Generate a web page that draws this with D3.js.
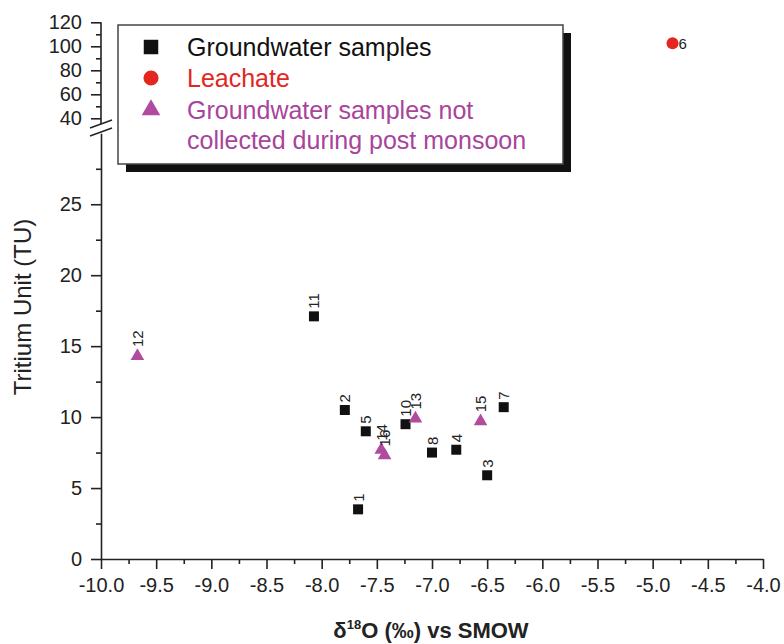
<!DOCTYPE html>
<html>
<head>
<meta charset="utf-8">
<script src="https://cdn.jsdelivr.net/npm/d3@7"></script>
<style>
  body { margin: 0; background: #fff; }
  svg { font-family: "Liberation Sans", Arial, sans-serif; }
  .axis path, .axis line { stroke: #222; stroke-width: 1.6; }
  .axis text { font-size: 20px; fill: #222; }
  .pt-label { font-size: 15px; fill: #222; }
</style>
</head>
<body>
<div id="chart"></div>
<script>
// groundwater samples (squares)
const gwIds = [1, 2, 3, 4, 5, 7, 8, 10, 11];
const gwO18 = [-7.67, -7.79, -6.50, -6.78, -7.60, -6.35, -7.00, -7.24, -8.07];
const gwTU = [3.5, 10.5, 5.9, 7.7, 9.0, 10.7, 7.5, 9.5, 17.1];

// leachate (circle)
const leachIds = [6];
const leachO18 = [-4.82];
const leachTU = [102.5];

// samples not collected during post monsoon (triangles)
const ncIds = [12, 13, 14, 15, 16];
const ncO18 = [-9.67, -7.15, -7.46, -6.56, -7.43];
const ncTU = [14.3, 9.9, 7.7, 9.7, 7.3];

const xTicks = [-10, -9.5, -9, -8.5, -8, -7.5, -7, -6.5, -6, -5.5, -5, -4.5, -4];
const yLowTicks = [0, 5, 10, 15, 20, 25];
const yHighTicks = [40, 60, 80, 100, 120];

const legendLabels = ['Groundwater samples', 'Leachate', ['Groundwater samples not', 'collected during post monsoon']];

const toPoints = (ids, xs, ys) => ids.map((id, i) => ({id: id, o18: xs[i], tu: ys[i]}));

class BrokenScatter {
    constructor(_config) {
        this.config = {
            parentElement: _config.parentElement,
            containerWidth: _config.containerWidth || 784,
            containerHeight: _config.containerHeight || 644
        };
        this.initVis();
        this.renderVis();
    }

    initVis() {
        let vis = this;

        vis.svg = d3.select(vis.config.parentElement)
            .append('svg')
            .attr('width', vis.config.containerWidth)
            .attr('height', vis.config.containerHeight);

        vis.xScale = d3.scaleLinear().domain([-10, -4]).range([101, 763]);
        // lower part of the broken axis
        vis.yLow = d3.scaleLinear().domain([0, 30]).range([559, 133.3]);
        // upper part of the broken axis
        vis.yHigh = d3.scaleLinear().domain([40, 120]).range([118.3, 22.3]);

        vis.colors = {gw: '#111111', leach: '#e3261f', nc: '#b04ba0', ncText: '#a8449b'};
    }

    renderVis() {
        let vis = this;

        // x axis, major + minor ticks
        vis.svg.append('g')
            .attr('class', 'axis')
            .attr('transform', 'translate(0,559)')
            .call(d3.axisBottom(vis.xScale).tickValues(xTicks).tickFormat(d3.format('.1f'))
                .tickSize(10).tickSizeOuter(0).tickPadding(9))
            .call(g => g.selectAll('text').text(d => d3.format('.1f')(d).replace('−', '-')));
        vis.svg.append('g')
            .attr('class', 'axis')
            .attr('transform', 'translate(0,559)')
            .call(d3.axisBottom(vis.xScale).tickValues(d3.range(-9.75, -4, 0.5)).tickFormat('')
                .tickSize(5).tickSizeOuter(0))
            .call(g => g.select('.domain').remove());

        // lower y axis
        vis.svg.append('g')
            .attr('class', 'axis')
            .attr('transform', 'translate(101,0)')
            .call(d3.axisLeft(vis.yLow).tickValues(yLowTicks).tickSize(10).tickSizeOuter(0).tickPadding(9));
        vis.svg.append('g')
            .attr('class', 'axis')
            .attr('transform', 'translate(101,0)')
            .call(d3.axisLeft(vis.yLow).tickValues([2.5, 7.5, 12.5, 17.5, 22.5, 27.5]).tickFormat('')
                .tickSize(5).tickSizeOuter(0))
            .call(g => g.select('.domain').remove());

        // upper y axis (domain line stops just above the break)
        vis.svg.append('g')
            .attr('class', 'axis')
            .attr('transform', 'translate(101,0)')
            .call(d3.axisLeft(vis.yHigh).tickValues(yHighTicks).tickSize(10).tickSizeOuter(0).tickPadding(9))
            .call(g => g.select('.domain').attr('d', `M0,${vis.yHigh(120)}V${vis.yHigh(35.2)}`));
        vis.svg.append('g')
            .attr('class', 'axis')
            .attr('transform', 'translate(101,0)')
            .call(d3.axisLeft(vis.yHigh).tickValues([50, 70, 90, 110]).tickFormat('')
                .tickSize(5).tickSizeOuter(0))
            .call(g => g.select('.domain').remove());

        // break marks
        [0, 8].forEach(off => {
            vis.svg.append('line')
                .attr('x1', 90).attr('y1', 128 + off)
                .attr('x2', 112).attr('y2', 120 + off)
                .attr('stroke', '#222').attr('stroke-width', 1.6);
        });

        // axis titles
        vis.svg.append('text')
            .attr('transform', 'translate(31,307) rotate(-90)')
            .attr('text-anchor', 'middle')
            .style('font-size', '24px')
            .attr('fill', '#222')
            .text('Tritium Unit (TU)');

        const xt = vis.svg.append('text')
            .attr('x', 431).attr('y', 638)
            .attr('text-anchor', 'middle')
            .style('font-size', '22px')
            .style('font-weight', 'bold')
            .attr('fill', '#222');
        xt.append('tspan').text('δ');
        xt.append('tspan').attr('dy', -9).style('font-size', '13px').text('18');
        xt.append('tspan').attr('dy', 9).text('O (‰) vs SMOW');

        // legend
        const lg = vis.svg.append('g');
        lg.append('rect').attr('x', 126).attr('y', 33).attr('width', 445).attr('height', 139).attr('fill', '#111');
        lg.append('rect').attr('x', 118).attr('y', 25).attr('width', 445).attr('height', 139)
            .attr('fill', '#fff').attr('stroke', '#444').attr('stroke-width', 1.5);
        const legendRows = [
            {sym: d3.symbolSquare, size: 210, color: vis.colors.gw, text: vis.colors.gw, y: 47},
            {sym: d3.symbolCircle, size: 180, color: vis.colors.leach, text: vis.colors.leach, y: 78},
            {sym: d3.symbolTriangle, size: 150, color: vis.colors.nc, text: vis.colors.ncText, y: 110}
        ];
        legendRows.forEach((r, i) => {
            lg.append('path')
                .attr('d', d3.symbol().type(r.sym).size(r.size)())
                .attr('transform', `translate(151,${r.y})`)
                .attr('fill', r.color);
            const lines = [].concat(legendLabels[i]);
            lines.forEach((t, j) => {
                lg.append('text')
                    .attr('x', 187).attr('y', r.y + 9 + j * 30)
                    .style('font-size', '25px')
                    .attr('fill', r.text)
                    .text(t);
            });
        });

        // points
        const lowLabel = (sel) => sel
            .attr('class', 'pt-label')
            .attr('transform', d => `translate(${vis.xScale(d.o18) + 5.5},${vis.yLow(d.tu) - 7.5}) rotate(-90)`)
            .text(d => d.id);

        const gw = toPoints(gwIds, gwO18, gwTU);
        vis.svg.selectAll('.gw').data(gw).join('path')
            .attr('class', 'gw')
            .attr('d', d3.symbol().type(d3.symbolSquare).size(100))
            .attr('transform', d => `translate(${vis.xScale(d.o18)},${vis.yLow(d.tu)})`)
            .attr('fill', vis.colors.gw);
        vis.svg.selectAll('.gw-label').data(gw).join('text').call(lowLabel);

        const nc = toPoints(ncIds, ncO18, ncTU);
        vis.svg.selectAll('.nc').data(nc).join('path')
            .attr('class', 'nc')
            .attr('d', d3.symbol().type(d3.symbolTriangle).size(80))
            .attr('transform', d => `translate(${vis.xScale(d.o18)},${vis.yLow(d.tu)})`)
            .attr('fill', vis.colors.nc);
        vis.svg.selectAll('.nc-label').data(nc).join('text').call(lowLabel)
            .attr('transform', d => `translate(${vis.xScale(d.o18) + 5.5},${vis.yLow(d.tu) - 9}) rotate(-90)`);

        const lc = toPoints(leachIds, leachO18, leachTU);
        vis.svg.selectAll('.leach').data(lc).join('circle')
            .attr('class', 'leach')
            .attr('r', 6)
            .attr('cx', d => vis.xScale(d.o18))
            .attr('cy', d => vis.yHigh(d.tu))
            .attr('fill', vis.colors.leach);
        vis.svg.selectAll('.leach-label').data(lc).join('text')
            .attr('class', 'pt-label')
            .attr('x', d => vis.xScale(d.o18) + 6)
            .attr('y', d => vis.yHigh(d.tu) + 5.5)
            .text(d => d.id);
    }
}

new BrokenScatter({parentElement: '#chart'});
</script>
</body>
</html>
